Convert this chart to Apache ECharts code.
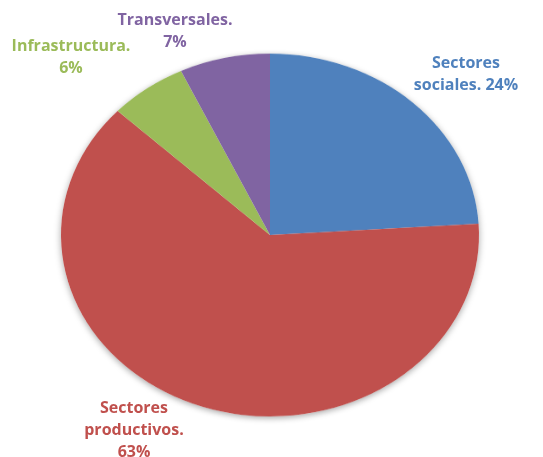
<!DOCTYPE html>
<html>
<head>
<meta charset="utf-8">
<script src="https://cdn.jsdelivr.net/npm/echarts@6/dist/echarts.min.js"></script>
<style>
  html, body { margin: 0; padding: 0; background: #ffffff; }
  #wrap { position: relative; width: 543px; height: 457px; overflow: hidden; }
  #pie, #labels { position: absolute; left: 0; top: 0; width: 543px; height: 457px; }
  /* the pie is drawn as a circle and flattened into an ellipse */
  #pie { transform: scaleY(0.868); transform-origin: 270px 235px; }
</style>
</head>
<body>
<div id="wrap">
  <div id="pie"></div>
  <div id="labels"></div>
</div>
<script>
// Budget share by sector (%)
const categories = ['Sectores sociales', 'Sectores productivos', 'Infrastructura', 'Transversales'];
const values = [24, 63, 6, 7];
const colors = ['#4F81BD', '#C0504D', '#9BBB59', '#8064A2'];
// how each label wraps: the name words, then the value
const nameLines = [['Sectores', 'sociales.'], ['Sectores', 'productivos.'], ['Infrastructura.'], ['Transversales.']];
const valueOnOwnLine = [false, true, true, true];

const data = categories.map((name, i) => ({
  name: name,
  value: values[i],
  itemStyle: { color: colors[i] },
  label: { color: colors[i] }
}));

function labelText(i) {
  const lines = nameLines[i].slice();
  const pct = values[i] + '%';
  if (valueOnOwnLine[i]) lines.push(pct);
  else lines[lines.length - 1] += ' ' + pct;
  return lines.join('\n');
}

const center = [270, 235];
const radius = 209;

// slices
const pieChart = echarts.init(document.getElementById('pie'), null, { renderer: 'canvas' });
pieChart.setOption({
  animation: false,
  series: [
    {
      // soft shadow under the whole disc
      type: 'pie', silent: true, center: center, radius: radius,
      label: { show: false }, labelLine: { show: false },
      data: [{ value: 1, itemStyle: { color: '#ffffff', shadowBlur: 7, shadowOffsetY: 2, shadowColor: 'rgba(0,0,0,0.35)' } }]
    },
    {
      type: 'pie', center: center, radius: radius, startAngle: 90, clockwise: true,
      label: { show: false }, labelLine: { show: false },
      data: data
    }
  ]
});

// labels, placed around the flattened pie
const labelSpots = [
  { x: 466, y: 74 },
  { x: 134, y: 430 },
  { x: 71, y: 57 },
  { x: 175, y: 31 }
];
const labelChart = echarts.init(document.getElementById('labels'), null, { renderer: 'canvas' });
labelChart.setOption({
  animation: false,
  series: [{
    type: 'pie', silent: true, center: center, radius: 150, startAngle: 90, clockwise: true,
    itemStyle: { color: 'rgba(0,0,0,0)' },
    label: {
      show: true, position: 'outside', overflow: 'none', width: 300,
      formatter: p => labelText(p.dataIndex),
      fontFamily: 'Open Sans', fontWeight: 'bold', fontSize: 16, lineHeight: 22, align: 'center'
    },
    labelLine: { show: false },
    labelLayout: p => ({ x: labelSpots[p.dataIndex].x, y: labelSpots[p.dataIndex].y, align: 'center', verticalAlign: 'middle', moveOverlap: null }),
    data: data.map(d => ({ name: d.name, value: d.value, label: d.label, itemStyle: { color: 'rgba(0,0,0,0)' } }))
  }]
});
</script>
</body>
</html>
